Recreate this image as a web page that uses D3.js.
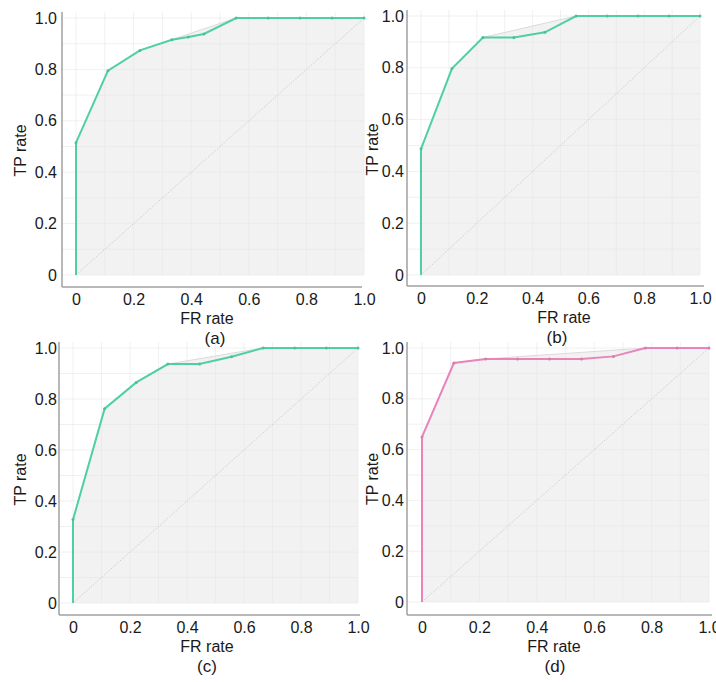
<!DOCTYPE html>
<html>
<head>
<meta charset="utf-8">
<script src="https://cdn.jsdelivr.net/npm/d3@7"></script>
<style>
  body { margin: 0; background: #fff; }
  svg { display: block; font-family: "Liberation Sans", Arial, sans-serif; }
</style>
</head>
<body>
<div id="chart"></div>
<script>
// ROC points (false positive rate / true positive rate) for each panel
var fprA = [0, 0, 0.111, 0.222, 0.333, 0.39, 0.444, 0.556, 0.667, 0.778, 0.889, 1.0];
var tprA = [0, 0.515, 0.795, 0.874, 0.915, 0.926, 0.938, 1.0, 1.0, 1.0, 1.0, 1.0];

var fprB = [0, 0, 0.111, 0.222, 0.333, 0.444, 0.556, 0.667, 0.778, 0.889, 1.0];
var tprB = [0, 0.487, 0.797, 0.917, 0.917, 0.937, 1.0, 1.0, 1.0, 1.0, 1.0];

var fprC = [0, 0, 0.111, 0.222, 0.333, 0.444, 0.556, 0.667, 0.778, 0.889, 1.0];
var tprC = [0, 0.327, 0.762, 0.865, 0.937, 0.937, 0.966, 1.0, 1.0, 1.0, 1.0];

var fprD = [0, 0, 0.111, 0.222, 0.333, 0.444, 0.556, 0.667, 0.778, 0.889, 1.0];
var tprD = [0, 0.65, 0.941, 0.957, 0.957, 0.957, 0.957, 0.967, 1.0, 1.0, 1.0];

var tickValues = [0, 0.2, 0.4, 0.6, 0.8, 1.0];
var tickLabels = ["0", "0.2", "0.4", "0.6", "0.8", "1.0"];
var panelLabels = ["(a)", "(b)", "(c)", "(d)"];

var svg = d3.select("#chart").append("svg")
    .attr("width", 716)
    .attr("height", 682);

// upper convex hull of the ROC points
function upperHull(pts) {
    var p = pts.slice().sort(function (a, b) { return a[0] - b[0] || a[1] - b[1]; });
    var h = [];
    p.forEach(function (q) {
        while (h.length >= 2) {
            var a = h[h.length - 2], b = h[h.length - 1];
            var cross = (b[0] - a[0]) * (q[1] - a[1]) - (b[1] - a[1]) * (q[0] - a[0]);
            if (cross >= 0) h.pop(); else break;
        }
        h.push(q);
    });
    return h;
}

function drawPanel(fpr, tpr, color, label, g) {
    var x = d3.scaleLinear().domain([0, 1]).range([g.x0, g.x1]);
    var y = d3.scaleLinear().domain([0, 1]).range([g.y0, g.y1]);
    var pts = fpr.map(function (f, i) { return [f, tpr[i]]; });

    var p = svg.append("g");

    // area under the convex hull
    var hull = upperHull(pts);
    var area = d3.area()
        .x(function (d) { return x(d[0]); })
        .y0(y(0))
        .y1(function (d) { return y(d[1]); });
    p.append("path")
        .datum(hull)
        .attr("d", area)
        .attr("fill", "#f2f2f2");

    // faint grid
    var grid = d3.range(0, 11).map(function (i) { return i / 10; });
    p.selectAll(".gx").data(grid).enter().append("line")
        .attr("x1", function (d) { return x(d); })
        .attr("x2", function (d) { return x(d); })
        .attr("y1", g.top)
        .attr("y2", g.y0)
        .attr("stroke", "#e6e6e6")
        .attr("stroke-opacity", 0.6)
        .attr("stroke-width", 1);
    p.selectAll(".gy").data(grid).enter().append("line")
        .attr("x1", g.axisX)
        .attr("x2", g.x1)
        .attr("y1", function (d) { return y(d); })
        .attr("y2", function (d) { return y(d); })
        .attr("stroke", "#e6e6e6")
        .attr("stroke-opacity", 0.6)
        .attr("stroke-width", 1);

    // diagonal
    p.append("line")
        .attr("x1", x(0)).attr("y1", y(0))
        .attr("x2", x(1)).attr("y2", y(1))
        .attr("stroke", "#cfcfcf")
        .attr("stroke-width", 1)
        .attr("stroke-dasharray", "1.5,1.5");

    // hull line
    var line = d3.line()
        .x(function (d) { return x(d[0]); })
        .y(function (d) { return y(d[1]); });
    p.append("path")
        .datum(hull)
        .attr("d", line)
        .attr("fill", "none")
        .attr("stroke", "#dadada")
        .attr("stroke-width", 1);

    // ROC curve
    p.append("path")
        .datum(pts)
        .attr("d", line)
        .attr("fill", "none")
        .attr("stroke", color)
        .attr("stroke-width", 2);
    p.selectAll(".pt").data(pts.slice(1)).enter().append("circle")
        .attr("cx", function (d) { return x(d[0]); })
        .attr("cy", function (d) { return y(d[1]); })
        .attr("r", 1.5)
        .attr("fill", d3.color(color).darker(0.2));

    // axis lines
    p.append("line")
        .attr("x1", g.axisX).attr("x2", g.axisX)
        .attr("y1", g.top).attr("y2", g.axisY)
        .attr("stroke", "#a0a0a0").attr("stroke-width", 1.5);
    p.append("line")
        .attr("x1", g.axisX).attr("x2", g.right)
        .attr("y1", g.axisY).attr("y2", g.axisY)
        .attr("stroke", "#a0a0a0").attr("stroke-width", 1.5);

    // tick labels
    var xAxis = d3.axisBottom(x).tickValues(tickValues).tickSize(0).tickPadding(0)
        .tickFormat(function (d, i) { return tickLabels[i]; });
    var gx = p.append("g").attr("transform", "translate(0," + (g.axisY + 4) + ")").call(xAxis);
    var yAxis = d3.axisLeft(y).tickValues(tickValues).tickSize(0).tickPadding(0)
        .tickFormat(function (d, i) { return tickLabels[i]; });
    var gy = p.append("g").attr("transform", "translate(" + g.ylab + ",0)").call(yAxis);
    [gx, gy].forEach(function (a) {
        a.select(".domain").remove();
        a.selectAll("text")
            .attr("font-size", 16)
            .attr("font-family", "'Liberation Sans', Arial, sans-serif")
            .attr("fill", "#1a1a1a");
    });
    gx.selectAll("text").attr("dy", "0.9em");

    // axis titles
    p.append("text")
        .attr("x", g.xtitle)
        .attr("y", g.axisY + 37)
        .attr("text-anchor", "middle")
        .attr("font-size", 16)
        .attr("fill", "#1a1a1a")
        .text("FR rate");
    p.append("text")
        .attr("transform", "translate(" + g.ytitle + "," + ((g.y0 + g.y1) / 2 + 4) + ") rotate(-90)")
        .attr("text-anchor", "middle")
        .attr("font-size", 16)
        .attr("fill", "#1a1a1a")
        .text("TP rate");
    p.append("text")
        .attr("x", g.plabel)
        .attr("y", g.axisY + 57)
        .attr("text-anchor", "middle")
        .attr("font-size", 17)
        .attr("fill", "#1a1a1a")
        .text(label);
}

var teal = "#4fd0a3";
var pink = "#e884bb";

drawPanel(fprA, tprA, teal, panelLabels[0],
    {x0: 76, x1: 364, y0: 275, y1: 18, axisX: 62, axisY: 287, top: 12, right: 362, ylab: 57, ytitle: 26, xtitle: 207, plabel: 215});
drawPanel(fprB, tprB, teal, panelLabels[1],
    {x0: 421, x1: 700, y0: 275, y1: 16, axisX: 407, axisY: 286, top: 10, right: 704, ylab: 404, ytitle: 378, xtitle: 564, plabel: 557});
drawPanel(fprC, tprC, teal, panelLabels[2],
    {x0: 73, x1: 358, y0: 603, y1: 348, axisX: 59, axisY: 615, top: 342, right: 360, ylab: 57, ytitle: 26, xtitle: 207, plabel: 207});
drawPanel(fprD, tprD, pink, panelLabels[3],
    {x0: 422, x1: 709, y0: 602, y1: 348, axisX: 407, axisY: 615, top: 342, right: 712, ylab: 404, ytitle: 378, xtitle: 554, plabel: 555});
</script>
</body>
</html>
